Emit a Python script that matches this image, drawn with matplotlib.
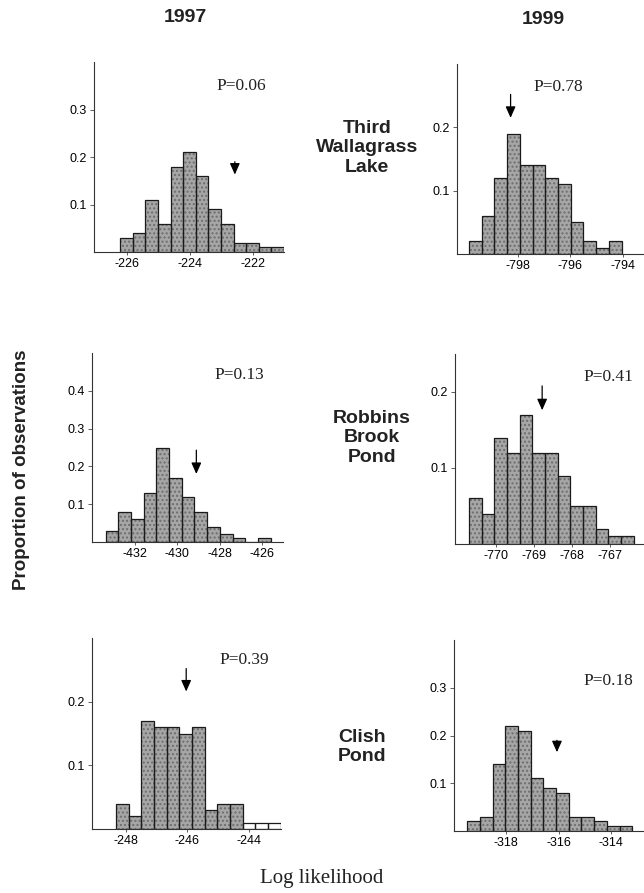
import matplotlib
matplotlib.use("Agg")
import matplotlib.pyplot as plt
import numpy as np

# ---------------- data ----------------
years = ["1997", "1999"]
lakes = ["Third\nWallagrass\nLake", "Robbins\nBrook\nPond", "Clish\nPond"]

# 1997 Third Wallagrass Lake
twl97_start, twl97_width = -226.23, 0.40
twl97_heights = [0.03, 0.04, 0.11, 0.06, 0.18, 0.21, 0.16, 0.09, 0.06, 0.02, 0.02, 0.01, 0.01]
twl97_obs, twl97_p = -222.59, "P=0.06"

# 1999 Third Wallagrass Lake
twl99_start, twl99_width = -799.87, 0.485
twl99_heights = [0.02, 0.06, 0.12, 0.19, 0.14, 0.14, 0.12, 0.11, 0.05, 0.02, 0.01, 0.02]
twl99_obs, twl99_p = -798.28, "P=0.78"

# 1997 Robbins Brook Pond
rbp97_start, rbp97_width = -433.36, 0.596
rbp97_heights = [0.03, 0.08, 0.06, 0.13, 0.25, 0.17, 0.12, 0.08, 0.04, 0.02, 0.01, 0.0, 0.01]
rbp97_obs, rbp97_p = -429.10, "P=0.13"

# 1999 Robbins Brook Pond
rbp99_start, rbp99_width = -770.70, 0.333
rbp99_heights = [0.06, 0.04, 0.14, 0.12, 0.17, 0.12, 0.12, 0.09, 0.05, 0.05, 0.02, 0.01, 0.01]
rbp99_obs, rbp99_p = -768.78, "P=0.41"

# 1997 Clish Pond
cp97_start, cp97_width = -248.33, 0.414
cp97_heights = [0.04, 0.02, 0.17, 0.16, 0.16, 0.15, 0.16, 0.03, 0.04, 0.04, 0.01, 0.01, 0.01]
cp97_obs, cp97_p = -246.04, "P=0.39"

# 1999 Clish Pond
cp99_start, cp99_width = -319.45, 0.48
cp99_heights = [0.02, 0.03, 0.14, 0.22, 0.21, 0.11, 0.09, 0.08, 0.03, 0.03, 0.02, 0.01, 0.01]
cp99_obs, cp99_p = -316.06, "P=0.18"

# tick values
twl97_xticks = [-226, -224, -222]
twl99_xticks = [-798, -796, -794]
rbp97_xticks = [-432, -430, -428, -426]
rbp99_xticks = [-770, -769, -768, -767]
cp97_xticks = [-248, -246, -244]
cp99_xticks = [-318, -316, -314]

twl97_yticks = [0.1, 0.2, 0.3]
twl99_yticks = [0.1, 0.2]
rbp97_yticks = [0.1, 0.2, 0.3, 0.4]
rbp99_yticks = [0.1, 0.2]
cp97_yticks = [0.1, 0.2]
cp99_yticks = [0.1, 0.2, 0.3]

# ---------------- layout ----------------
W, H = 644, 893
panels = [
    dict(box=(94, 284, 62, 252), start=twl97_start, width=twl97_width, h=twl97_heights, obs=twl97_obs, p=twl97_p,
         xt=twl97_xticks, yt=twl97_yticks, xlim=(-227.06, -221.03), ylim=(0, 0.4), arr=(0.19, 0.163), ptxt=(-222.4, 0.35), white=None),
    dict(box=(457, 643, 64, 254), start=twl99_start, width=twl99_width, h=twl99_heights, obs=twl99_obs, p=twl99_p,
         xt=twl99_xticks, yt=twl99_yticks, xlim=(-800.32, -793.24), ylim=(0, 0.3), arr=(0.252, 0.215), ptxt=(-796.45, 0.264), white=None),
    dict(box=(92, 283, 353, 542), start=rbp97_start, width=rbp97_width, h=rbp97_heights, obs=rbp97_obs, p=rbp97_p,
         xt=rbp97_xticks, yt=rbp97_yticks, xlim=(-434.0, -425.03), ylim=(0, 0.5), arr=(0.243, 0.180), ptxt=(-427.1, 0.442), white=None),
    dict(box=(455, 643, 354, 544), start=rbp99_start, width=rbp99_width, h=rbp99_heights, obs=rbp99_obs, p=rbp99_p,
         xt=rbp99_xticks, yt=rbp99_yticks, xlim=(-771.07, -766.13), ylim=(0, 0.25), arr=(0.208, 0.176), ptxt=(-767.04, 0.22), white=None),
    dict(box=(92, 281, 638, 829), start=cp97_start, width=cp97_width, h=cp97_heights, obs=cp97_obs, p=cp97_p,
         xt=cp97_xticks, yt=cp97_yticks, xlim=(-249.12, -242.94), ylim=(0, 0.3), arr=(0.252, 0.216), ptxt=(-244.13, 0.265), white=10),
    dict(box=(454, 643, 640, 831), start=cp99_start, width=cp99_width, h=cp99_heights, obs=cp99_obs, p=cp99_p,
         xt=cp99_xticks, yt=cp99_yticks, xlim=(-319.96, -312.8), ylim=(0, 0.4), arr=(0.19, 0.165), ptxt=(-314.13, 0.315), white=None),
]

fig = plt.figure(figsize=(W / 100, H / 100), dpi=100)
fig.patch.set_facecolor("white")

sans = ["Liberation Sans", "DejaVu Sans"]
serif = ["Liberation Serif", "DejaVu Serif"]

for pn in panels:
    l, r, t, b = pn["box"]
    ax = fig.add_axes([l / W, 1 - b / H, (r - l) / W, (b - t) / H])
    n = len(pn["h"])
    lefts = pn["start"] + pn["width"] * np.arange(n)
    heights = np.array(pn["h"])
    gray = np.ones(n, dtype=bool)
    if pn["white"] is not None:
        gray[pn["white"]:] = False
    # stippled gray fill
    ax.bar(lefts[gray], heights[gray], width=pn["width"], align="edge", color="#a6a6a6",
           edgecolor="#6e6e6e", linewidth=0, hatch="....")
    # outlines
    ax.bar(lefts, heights, width=pn["width"], align="edge", fill=False,
           edgecolor="#1a1a1a", linewidth=0.9)
    ax.set_xlim(*pn["xlim"])
    ax.set_ylim(*pn["ylim"])
    ax.set_xticks(pn["xt"])
    ax.set_xticklabels([f"{v:d}" for v in pn["xt"]], family=sans, fontsize=9)
    ax.set_yticks(pn["yt"])
    ax.set_yticklabels([f"{v:.1f}" for v in pn["yt"]], family=sans, fontsize=9)
    ax.tick_params(axis="both", length=3, width=0.6, color="#444444", pad=2)
    ax.tick_params(axis="x", length=2)
    for s in ["top", "right"]:
        ax.spines[s].set_visible(False)
    for s in ["left", "bottom"]:
        ax.spines[s].set_linewidth(0.8)
        ax.spines[s].set_color("#333333")
    ax.set_facecolor("none")
    ax.annotate("", xy=(pn["obs"], pn["arr"][1]), xytext=(pn["obs"], pn["arr"][0]),
                arrowprops=dict(arrowstyle="-|>,head_length=0.45,head_width=0.2", color="black", lw=0.9,
                                mutation_scale=15, shrinkA=0, shrinkB=0))
    ax.text(pn["ptxt"][0], pn["ptxt"][1], pn["p"], family=serif, fontsize=12.5,
            ha="center", va="center", color="#222222")

# column titles
fig.text(185 / W, 1 - 17 / H, years[0], family=sans, fontsize=14, fontweight="bold", ha="center", va="center", color="#222222")
fig.text(543 / W, 1 - 20 / H, years[1], family=sans, fontsize=14, fontweight="bold", ha="center", va="center", color="#222222")

# lake labels
lake_pos = [(367, 148), (372, 438), (362, 747)]
for name, (x, y) in zip(lakes, lake_pos):
    fig.text(x / W, 1 - y / H, name, family=sans, fontsize=14, fontweight="bold",
             ha="center", va="center", multialignment="center", linespacing=1.2, color="#222222")

fig.text(22 / W, 1 - 470 / H, "Proportion of observations", family=sans, fontsize=13.5,
         fontweight="bold", rotation=90, ha="center", va="center", color="#222222")
fig.text(322 / W, 1 - 878 / H, "Log likelihood", family=serif, fontsize=15, ha="center", va="center", color="#222222")

fig.savefig("out.png", dpi=100, facecolor="white")
